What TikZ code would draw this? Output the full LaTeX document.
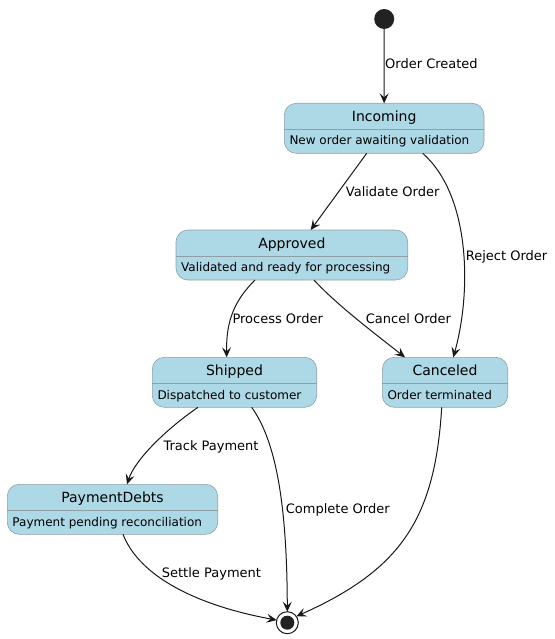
\documentclass[tikz,border=0pt]{standalone}
\usepackage{fontspec}
\setmainfont{DejaVu Sans}
\usetikzlibrary{arrows.meta}
\definecolor{statefill}{HTML}{ADD8E6}
\definecolor{stateline}{HTML}{8E9FA5}
\definecolor{ink}{HTML}{181818}
\definecolor{dot}{HTML}{222222}
\tikzset{
  statebox/.style={draw=stateline, fill=statefill, line width=0.6pt, rounded corners=12pt,
    minimum height=50pt, anchor=north west, inner sep=0pt, outer sep=0pt},
  divider/.style={draw=stateline, line width=0.6pt},
  stitle/.style={font=\fontsize{14}{16}\selectfont, text=black, inner sep=0pt, anchor=base},
  sdesc/.style={font=\fontsize{12}{14}\selectfont, text=black, inner sep=0pt, anchor=base west},
  elabel/.style={font=\fontsize{13}{15}\selectfont, text=black, inner sep=0pt, anchor=base west},
  edge/.style={draw=ink, line width=1pt, -{Stealth[length=10pt, width=9pt, inset=4pt]}},
}
\newcommand{\mystate}[6]{%
  \node[statebox, minimum width=#4pt] (#1) at (#2,#3) {};
  \draw[divider] ([yshift=-26pt]#1.north west) -- ([yshift=-26pt]#1.north east);
  \node[stitle] (#1-t) at ([yshift=-18.4pt]#1.north) {#5};
  \node[sdesc] (#1-d) at ([xshift=5pt,yshift=-41.7pt]#1.north west) {#6};
}
\begin{document}
\begin{tikzpicture}[x=1pt,y=-1pt]
\useasboundingbox (0,0) rectangle (554,639);

% start and end
\node[circle, fill=dot, minimum size=20pt, inner sep=0pt, outer sep=0pt] (start) at (384.2,19) {};
\node[circle, draw=ink, line width=1pt, fill=white, minimum size=22pt, inner sep=0pt, outer sep=0pt] (end) at (287.3,622.7) {};
\node[circle, fill=dot, minimum size=14pt, inner sep=0pt] (endin) at (end.center) {};

% states
\mystate{inc}{284.3}{103.3}{199.7}{Incoming}{New order awaiting validation}
\mystate{app}{176}{230}{231.7}{Approved}{Validated and ready for processing}
\mystate{shp}{152.3}{357.3}{164.4}{Shipped}{Dispatched to customer}
\mystate{can}{382.3}{357.3}{125.4}{Canceled}{Order terminated}
\mystate{pay}{7.3}{484.3}{210.4}{PaymentDebts}{Payment pending reconciliation}

% edges
\draw[edge] (start.south) -- (inc.north);
\draw[edge] ([xshift=82.4pt]inc.south west) -- ([xshift=134.7pt]app.north west);
\draw[edge] ([xshift=138.4pt]inc.south west) .. controls (470,195) and (472,290) .. ([xshift=71pt]can.north west);
\draw[edge] ([xshift=79pt]app.south west) .. controls (235,300) and (226,320) .. ([xshift=74.4pt]shp.north west);
\draw[edge] ([xshift=138pt]app.south west) .. controls (335,303) and (370,330) .. ([xshift=22.7pt]can.north west);
\draw[edge] ([xshift=45.7pt]shp.south west) .. controls (165,430) and (135,460) .. ([xshift=119.7pt]pay.north west);
\draw[edge] ([xshift=99.4pt]shp.south west) .. controls (275,440) and (287,500) .. (end.north);
\draw[edge] ([xshift=59.4pt]can.south west) .. controls (435,520) and (400,570) .. (end.35);
\draw[edge] ([xshift=115.7pt]pay.south west) .. controls (140,578) and (200,606) .. (end.166);

% edge labels
\node[elabel] (l1) at (385,68.5) {Order Created};
\node[elabel] (l2) at (345.7,196.2) {Validate Order};
\node[elabel] (l3) at (465.7,260.2) {Reject Order};
\node[elabel] (l4) at (232.3,323.8) {Process Order};
\node[elabel] (l5) at (365.7,323.8) {Cancel Order};
\node[elabel] (l6) at (163.3,450.5) {Track Payment};
\node[elabel] (l7) at (285.7,513.5) {Complete Order};
\node[elabel] (l8) at (161.7,577.8) {Settle Payment};
\end{tikzpicture}
\end{document}
